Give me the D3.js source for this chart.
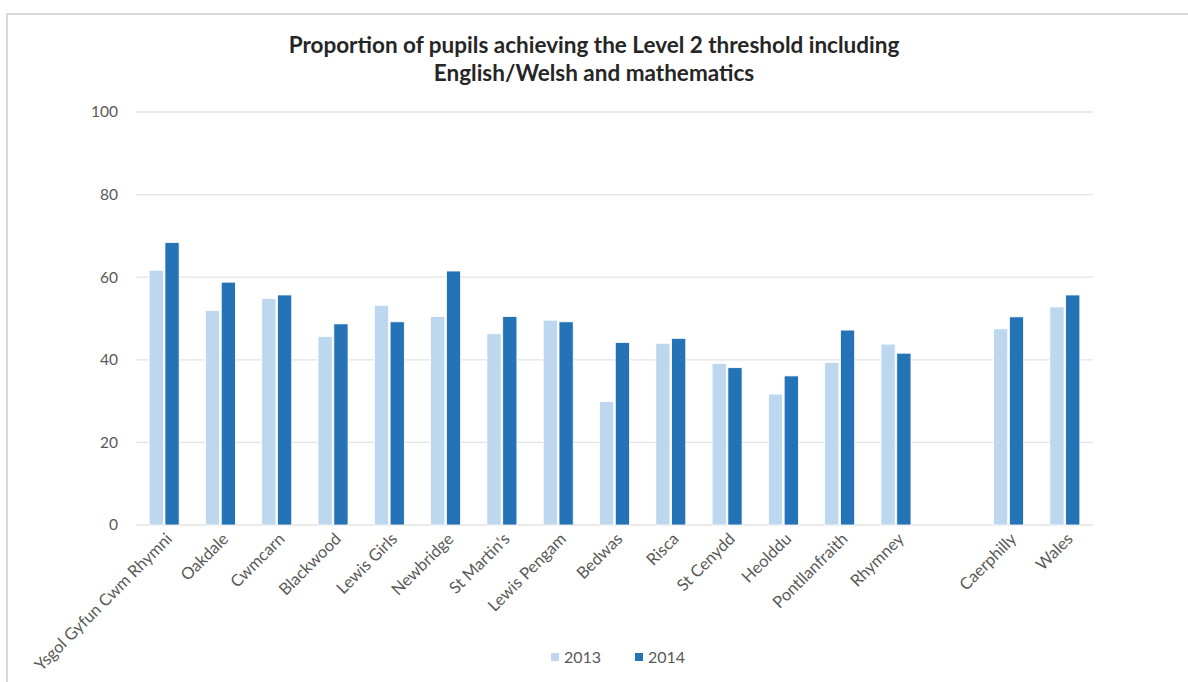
<!DOCTYPE html>
<html>
<head>
<meta charset="utf-8">
<script src="https://cdn.jsdelivr.net/npm/d3@7"></script>
<style>
  body { margin: 0; background: #fff; }
  svg { display: block; }
</style>
</head>
<body>
<svg id="chart" width="1188" height="682"></svg>
<script>
// Chart data
var schools = ["Ysgol Gyfun Cwm Rhymni", "Oakdale", "Cwmcarn", "Blackwood", "Lewis Girls",
  "Newbridge", "St Martin's", "Lewis Pengam", "Bedwas", "Risca", "St Cenydd", "Heolddu",
  "Pontllanfraith", "Rhymney", "", "Caerphilly", "Wales"];
var years = ["2013", "2014"];
var values2013 = [61.7, 51.9, 54.8, 45.6, 53.2, 50.5, 46.3, 49.6, 29.9, 44.0, 39.1, 31.7, 39.4, 43.8, null, 47.5, 52.8];
var values2014 = [68.4, 58.8, 55.7, 48.7, 49.2, 61.5, 50.5, 49.2, 44.2, 45.2, 38.1, 36.1, 47.2, 41.6, null, 50.4, 55.7];
var yTicks = [0, 20, 40, 60, 80, 100];

var colors = { "2013": "#bdd7ee", "2014": "#2473b6" };
var font = "Lato, 'Open Sans', sans-serif";

var svg = d3.select("#chart");

// frame round the chart
svg.append("rect")
  .attr("x", 7).attr("y", 14)
  .attr("width", 1200).attr("height", 700)
  .attr("fill", "none")
  .attr("stroke", "#d9d9d9")
  .attr("stroke-width", 2);

// title
var title = svg.append("text")
  .attr("x", 594)
  .attr("text-anchor", "middle")
  .attr("font-family", font)
  .attr("font-weight", "bold")
  .attr("font-size", 22.5)
  .attr("fill", "#262626");
title.append("tspan").attr("x", 594).attr("y", 53).text("Proportion of pupils achieving the Level 2 threshold including");
title.append("tspan").attr("x", 594).attr("y", 81).text("English/Welsh and mathematics");

// scales
var x = d3.scaleBand().domain(d3.range(schools.length)).range([136, 1093]);
var x1 = d3.scaleBand().domain(years).range([0, 30]).paddingInner(0.1);
var y = d3.scaleLinear().domain([0, 100]).range([525, 112]);

// gridlines
svg.append("g")
  .selectAll("line")
  .data(yTicks)
  .enter().append("line")
  .attr("x1", 136).attr("x2", 1093)
  .attr("y1", function(d) { return y(d); })
  .attr("y2", function(d) { return y(d); })
  .attr("stroke", "#e3e3e3")
  .attr("stroke-width", 1.3);

// y axis labels
var yAxis = svg.append("g")
  .attr("transform", "translate(125,0)")
  .call(d3.axisLeft(y).tickValues(yTicks).tickSize(0).tickPadding(7));
yAxis.select(".domain").remove();
yAxis.selectAll("text")
  .attr("font-family", font)
  .attr("font-size", 15.5)
  .attr("fill", "#595959");

// bars
var groups = svg.append("g")
  .selectAll("g")
  .data(schools)
  .enter().append("g")
  .attr("transform", function(d, i) { return "translate(" + (x(i) + (x.bandwidth() - 30) / 2) + ",0)"; });

groups.selectAll("rect")
  .data(function(d, i) {
    return [{ year: "2013", value: values2013[i] }, { year: "2014", value: values2014[i] }]
      .filter(function(v) { return v.value != null; });
  })
  .enter().append("rect")
  .attr("x", function(d) { return x1(d.year); })
  .attr("width", x1.bandwidth())
  .attr("y", function(d) { return y(d.value); })
  .attr("height", function(d) { return y(0) - y(d.value); })
  .attr("fill", function(d) { return colors[d.year]; })
  .attr("stroke", "#ffffff")
  .attr("stroke-width", 0.8);

// x axis labels
var xAxis = svg.append("g")
  .attr("transform", "translate(0,527)")
  .call(d3.axisBottom(x).tickFormat(function(i) { return schools[i]; }).tickSize(0).tickPadding(0));
xAxis.select(".domain").remove();
xAxis.selectAll("text")
  .attr("font-family", font)
  .attr("font-size", 16.5)
  .attr("fill", "#595959")
  .attr("text-anchor", "end")
  .attr("dy", 0)
  .attr("transform", "translate(9,13) rotate(-45)");

// legend
var legend = svg.append("g")
  .selectAll("g")
  .data(years)
  .enter().append("g")
  .attr("transform", function(d, i) { return "translate(" + (551 + i * 84) + ",653)"; });
legend.append("rect")
  .attr("width", 8).attr("height", 8)
  .attr("fill", function(d) { return colors[d]; });
legend.append("text")
  .attr("x", 13).attr("y", 10)
  .attr("font-family", font)
  .attr("font-size", 16)
  .attr("fill", "#595959")
  .text(function(d) { return d; });
</script>
</body>
</html>
